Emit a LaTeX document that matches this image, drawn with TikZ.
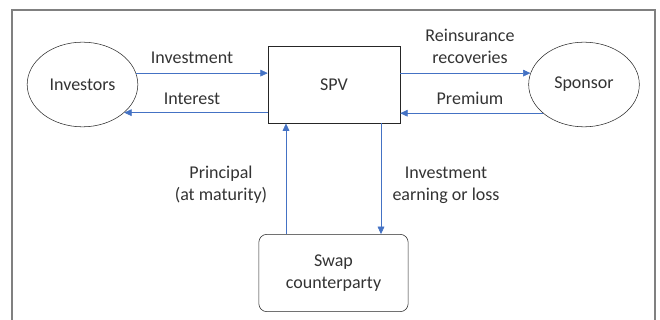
\documentclass[tikz,border=0pt]{standalone}
\usepackage{fontspec}
\setmainfont{Carlito}
\usepackage{xcolor}
\usetikzlibrary{shapes.geometric}
\usetikzlibrary{positioning}
\usetikzlibrary{arrows.meta,calc}

\definecolor{flowblue}{HTML}{4472C4}

\begin{document}
\begin{tikzpicture} [
  x = 0.75pt, y = -0.75pt,
  font = \fontsize{13.5}{16.5}\selectfont,
  acteur/.style = {ellipse, draw = black!85, text = black!80, inner sep = 0pt,
                   minimum width = 83pt, minimum height = 63.5pt},
  boite/.style = {rectangle, draw = black!85, text = black!80, inner sep = 0pt,
                  minimum width = 99pt, minimum height = 58pt},
  etiq/.style = {align = center, inner sep = 0pt, text = black!80},
  flux/.style = {draw = flowblue, -{Triangle[length=5.5pt, width=5pt]}},
  cadre/.style = {draw = black!50, line width = 1.1pt},
]

 \useasboundingbox (0,0) rectangle (660,320);
 \draw [cadre] (12,322) -- (12,10) -- (655,10) -- (655,322);

 \node [acteur] (inv) at (82.5,84.5) {Investors};
 \node [boite] (spv) at (334,84.5) {SPV};
 \node [acteur] (spon) at (584,84.5) {Sponsor};
 \node [boite, rounded corners = 6pt, minimum width = 112pt, align = center]
   (swap) at (333.5,273) {Swap\\counterparty};

 % labels
 \node [etiq] (linvest) at (192,57.5) {Investment};
 \node [etiq] (linter) at (192,98.5) {Interest};
 \node [etiq] (lreins) at (470,46) {Reinsurance\\recoveries};
 \node [etiq] (lprem) at (470,98.5) {Premium};
 \node [etiq] (lprin) at (221,185) {Principal\\(at maturity)};
 \node [etiq] (learn) at (446,185) {Investment\\earning or loss};

 \begin{scope}[every path/.style=flux]
\path (inv.12) -- (spv.west |- inv.12) ;
\path (spv.west |- inv.-34.7) -- (inv.-34.7) ;
\path (spv.east |- spon.168) -- (spon.168) ;
\path (spon.-145.3) -- (spv.east |- spon.-145.3) ;
\path ($(swap.north)+(-47.5,0)$) -- ($(spv.south)+(-48,0)$) ;
\path ($(spv.south)+(47,0)$) -- ($(swap.north)+(47.5,0)$) ;
\end{scope}

\end{tikzpicture}
\end{document}
